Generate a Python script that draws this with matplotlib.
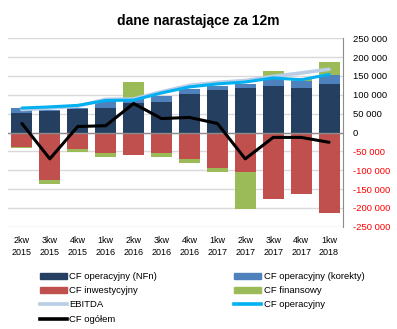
import matplotlib.pyplot as plt
import numpy as np
from matplotlib.patches import Patch
from matplotlib.lines import Line2D
from matplotlib.ticker import FuncFormatter

plt.rcParams['font.family'] = ['Liberation Sans', 'DejaVu Sans']

quarters = ['2kw\n2015', '3kw\n2015', '4kw\n2015', '1kw\n2016', '2kw\n2016', '3kw\n2016',
            '4kw\n2016', '1kw\n2017', '2kw\n2017', '3kw\n2017', '4kw\n2017', '1kw\n2018']

cf_op_nfn = [53000, 56000, 63000, 64000, 77000, 82000, 101000, 114000, 117000, 124000, 119000, 130000]
cf_op_kor = [11000, 3000, 2000, 20000, 11000, 16000, 15000, 10000, 11000, 20000, 19000, 23000]
cf_inw = [-38000, -125000, -44000, -54000, -60000, -54000, -70000, -94000, -104000, -177000, -162000, -215000]
cf_fin = [-3000, -11000, -9000, -10000, 47000, -10000, -11000, -10000, -98000, 18000, 8000, 35000]
ebitda = [61000, 65000, 70000, 88000, 89000, 108000, 125000, 133000, 138000, 149000, 158000, 168000]
cf_op = [65000, 68000, 72000, 85000, 86000, 105000, 121000, 129000, 134000, 145000, 140000, 154000]
cf_total = [24000, -70000, 16000, 18000, 77000, 37000, 40000, 24000, -70000, -13000, -13000, -26000]

c_nfn = '#243f60'
c_kor = '#4f81bd'
c_inw = '#c0504d'
c_fin = '#9bbb59'
c_ebitda = '#b9cde5'
c_op = '#00b0f0'

x = np.arange(len(quarters))
nfn = np.array(cf_op_nfn)
kor = np.array(cf_op_kor)
inw = np.array(cf_inw)
fin = np.array(cf_fin)

fig = plt.figure(figsize=(3.97, 3.29), dpi=100)
ax = fig.add_axes([0.020, 0.311, 0.844, 0.5725])

w = 0.75
ax.bar(x, nfn, w, color=c_nfn, zorder=2)
ax.bar(x, kor, w, bottom=nfn, color=c_kor, zorder=2)
ax.bar(x, inw, w, color=c_inw, zorder=2)
# finansowy stacks on the positive or the negative side
fin_bottom = np.where(fin >= 0, nfn + kor, inw)
ax.bar(x, fin, w, bottom=fin_bottom, color=c_fin, zorder=2)

ax.plot(x, ebitda, color=c_ebitda, lw=2.6, zorder=3, solid_capstyle='round')
ax.plot(x, cf_op, color=c_op, lw=2.2, zorder=4, solid_capstyle='round')
ax.plot(x, cf_total, color='black', lw=2.2, zorder=5, solid_capstyle='round')

ax.axhline(0, color='#8c8c8c', lw=1, zorder=2.5)

ax.set_xlim(-0.5, len(quarters) - 0.5)
ax.set_ylim(-250000, 250000)
ax.set_yticks(np.arange(-250000, 250001, 50000))
ax.yaxis.tick_right()
ax.yaxis.set_major_formatter(FuncFormatter(lambda v, p: f'{int(v):,}'.replace(',', ' ')))
ax.grid(axis='y', color='#d9d9d9', lw=1, zorder=0)
ax.set_axisbelow(True)
for s in ['left', 'top', 'bottom']:
    ax.spines[s].set_visible(False)
ax.spines['right'].set_color('#8c8c8c')
ax.tick_params(axis='y', length=0, pad=7, labelsize=6.8)
for t in ax.get_yticklabels():
    if t.get_text().startswith('-') or t.get_text().startswith('\u2212'):
        t.set_color('red')
ax.set_xticks(x)
ax.set_xticklabels(quarters, fontsize=6.5, linespacing=1.35)
ax.tick_params(axis='x', length=0, pad=7)

fig.text(0.5, 0.937, 'dane narastające za 12m', ha='center', va='center',
         fontsize=10, fontweight='bold')

handles = [Patch(color=c_nfn), Patch(color=c_inw),
           Line2D([], [], color=c_ebitda, lw=2.6), Line2D([], [], color='black', lw=2.6),
           Patch(color=c_kor), Patch(color=c_fin), Line2D([], [], color=c_op, lw=2.6)]
labels = ['CF operacyjny (NFn)', 'CF inwestycyjny', 'EBITDA', 'CF ogółem',
          'CF operacyjny (korekty)', 'CF finansowy', 'CF operacyjny']
fig.legend(handles, labels, ncol=2, loc='upper left', bbox_to_anchor=(0.10, 0.173),
           frameon=False, fontsize=6.8, handlelength=2.85, handleheight=0.55,
           handletextpad=0.25, columnspacing=8.2, labelspacing=0.55, borderaxespad=0,
           borderpad=0)

fig.savefig('out.png', dpi=100)
